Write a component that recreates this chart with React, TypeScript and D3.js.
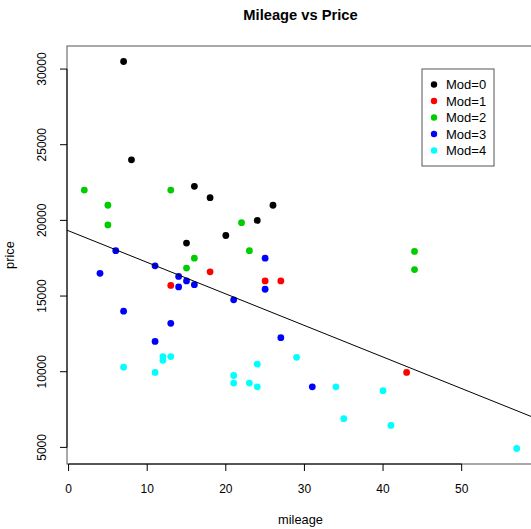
import React from "react";
import * as d3 from "d3";

const mileage0 = [7, 8, 16, 18, 24, 26, 20, 15];
const price0 = [30500, 24000, 22250, 21500, 20000, 21000, 19000, 18500];
const mileage1 = [18, 25, 27, 13, 43];
const price1 = [16600, 16000, 16000, 15700, 9950];
const mileage2 = [2, 5, 5, 13, 22, 16, 15, 23, 44, 44];
const price2 = [22000, 21000, 19700, 22000, 19850, 17500, 16850, 18000, 17950, 16750];
const mileage3 = [6, 4, 11, 25, 25, 14, 15, 14, 16, 21, 7, 13, 11, 27, 31];
const price3 = [18000, 16500, 17000, 17500, 15450, 16300, 16000, 15600, 15750, 14750, 14000, 13200, 12000, 12250, 9000];
const mileage4 = [12, 12, 13, 7, 11, 21, 21, 23, 24, 24, 29, 34, 40, 35, 41, 57];
const price4 = [11000, 10750, 11000, 10300, 9950, 9750, 9250, 9250, 10500, 9000, 10950, 9000, 8750, 6900, 6450, 4925];

const modLabels = ["Mod=0", "Mod=1", "Mod=2", "Mod=3", "Mod=4"];
const modColors = ["#000000", "#FF0000", "#00CD00", "#0000FF", "#00FFFF"];
const xTicks = [0, 10, 20, 30, 40, 50];
const yTicks = [5000, 10000, 15000, 20000, 25000, 30000];
const fitIntercept = 19310;
const fitSlope = -208.5;

const groups = [
  [mileage0, price0],
  [mileage1, price1],
  [mileage2, price2],
  [mileage3, price3],
  [mileage4, price4],
];

const W = 531, H = 529;
const L = 67, R = 534, T = 46, B = 464;
const FONT = "'Liberation Sans', Arial, Helvetica, sans-serif";

export default function App() {
  const allX = groups.flatMap((g) => g[0]);
  const allY = groups.flatMap((g) => g[1]);
  const [xmin, xmax] = d3.extent(allX) as [number, number];
  const [ymin, ymax] = d3.extent(allY) as [number, number];
  const xpad = 0.04 * (xmax - xmin);
  const ypad = 0.04 * (ymax - ymin);
  const x = d3.scaleLinear().domain([xmin - xpad, xmax + xpad]).range([L, R]);
  const y = d3.scaleLinear().domain([ymin - ypad, ymax + ypad]).range([B, T]);
  const [dx0, dx1] = x.domain();
  const tick = 7;

  return (
    <svg width={W} height={H} style={{ position: "absolute", left: 0, top: 0, background: "#fff" }} fontFamily={FONT}>
      <defs>
        <clipPath id="plotclip">
          <rect x={L} y={T} width={R - L} height={B - T} />
        </clipPath>
      </defs>
      <rect x={0} y={0} width={W} height={H} fill="#fff" />
      <text x={(L + R) / 2} y={20} textAnchor="middle" fontWeight="bold" fontSize={14.7}>Mileage vs Price</text>
      <rect x={L} y={T} width={R - L} height={B - T} fill="none" stroke="#555" strokeWidth={1} />
      {/* x axis */}
      <line x1={x(xTicks[0])} x2={x(xTicks[xTicks.length - 1])} y1={B} y2={B} stroke="#000" />
      {xTicks.map((t) => (
        <g key={"xt" + t}>
          <line x1={x(t)} x2={x(t)} y1={B} y2={B + tick} stroke="#000" />
          <text x={x(t)} y={B + 29} textAnchor="middle" fontSize={12}>{t}</text>
        </g>
      ))}
      <text x={(L + R) / 2} y={524} textAnchor="middle" fontSize={12.8}>mileage</text>
      {/* y axis */}
      <line x1={L} x2={L} y1={y(yTicks[0])} y2={y(yTicks[yTicks.length - 1])} stroke="#000" />
      {yTicks.map((t) => (
        <g key={"yt" + t}>
          <line x1={L - tick} x2={L} y1={y(t)} y2={y(t)} stroke="#000" />
          <text transform={`translate(${L - 21},${y(t)}) rotate(-90)`} textAnchor="middle" fontSize={12}>{t}</text>
        </g>
      ))}
      <text transform={`translate(14,${(T + B) / 2}) rotate(-90)`} textAnchor="middle" fontSize={12.8}>price</text>
      {/* points */}
      {groups.map((g, gi) =>
        g[0].map((mx, i) => (
          <circle key={`p${gi}-${i}`} cx={x(mx)} cy={y(g[1][i])} r={3.4} fill={modColors[gi]} />
        ))
      )}
      {/* fit line */}
      <line
        clipPath="url(#plotclip)"
        x1={x(dx0)} y1={y(fitIntercept + fitSlope * dx0)}
        x2={x(dx1)} y2={y(fitIntercept + fitSlope * dx1)}
        stroke="#000" strokeWidth={1}
      />
      {/* legend */}
      <g>
        <rect x={422} y={69} width={72} height={97} fill="#fff" stroke="#555" />
        {modLabels.map((lab, i) => (
          <g key={lab}>
            <circle cx={434} cy={84.5 + i * 16.5} r={3.2} fill={modColors[i]} />
            <text x={446} y={89 + i * 16.5} fontSize={13}>{lab}</text>
          </g>
        ))}
      </g>
    </svg>
  );
}
